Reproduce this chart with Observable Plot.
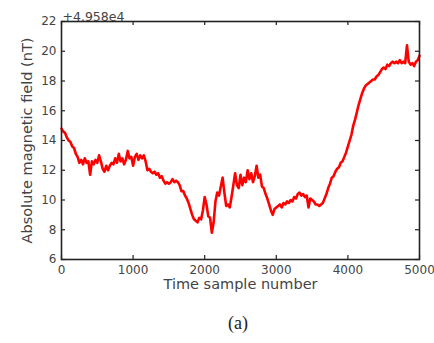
<!DOCTYPE html>
<html>
<head>
<meta charset="utf-8">
<script src="https://cdn.jsdelivr.net/npm/d3@7"></script>
<script src="https://cdn.jsdelivr.net/npm/@observablehq/plot@0.6"></script>
<style>
  html, body { margin: 0; padding: 0; background: #fff; }
  #wrap { width: 434px; height: 343px; position: relative; }
  #cap { position: absolute; left: 0; width: 434px; top: 313px; text-align: center; padding-left: 42px; box-sizing: border-box;
         font-family: "Liberation Serif", "DejaVu Serif", serif; font-size: 18px; color: #222; }
</style>
</head>
<body>
<div id="wrap"><div id="chart"></div><div id="cap">(a)</div></div>
<script>
// Sample spacing between values
const sampleStep = 25;
// Absolute magnetic field minus offset 4.958e4 (nT), every 25 samples from 0 to 5000
const field0 = [14.8,14.6,14.5,14.2,14.0,13.9,13.6,13.5,13.1,12.9,12.5,12.7,12.4,12.8,12.5,12.6,11.7,12.6,12.4,12.7,
                12.5,13.0,12.6,12.1,11.9,12.3,12.0,12.3,12.5,12.4,12.8,12.5,13.1,12.6,12.8,12.4,12.7,13.3,12.8,12.9];
const field1 = [12.3,12.9,13.1,12.7,13.0,12.8,13.0,12.6,12.0,12.1,11.9,11.8,11.9,11.7,11.8,11.5,11.6,11.3,11.1,11.2,
                11.1,11.2,11.4,11.2,11.3,11.2,11.0,10.6,10.6,10.3,10.1,9.8,9.4,9.0,8.7,8.6,8.5,8.8,8.7,9.3];
const field2 = [10.2,9.7,8.9,8.8,7.8,8.5,9.9,10.5,10.3,10.9,11.5,10.5,9.6,9.7,9.5,10.2,11.0,11.8,11.0,10.8,
                11.7,11.0,11.5,11.2,12.0,11.4,11.8,11.2,11.6,12.3,11.5,11.7,10.9,10.8,10.4,10.1,9.7,9.3,9.0,9.4];
const field3 = [9.5,9.6,9.7,9.5,9.8,9.7,9.9,9.8,10.0,9.9,10.2,10.1,10.4,10.5,10.3,10.4,10.2,10.3,9.5,10.1,
                10.0,9.9,9.7,9.7,9.6,9.7,9.8,10.1,10.4,10.8,11.1,11.5,11.6,11.9,12.1,12.2,12.5,12.6,12.9,13.2];
const field4 = [13.6,14.0,14.4,15.0,15.4,15.9,16.4,16.8,17.2,17.5,17.7,17.8,17.9,18.0,18.1,18.1,18.3,18.4,18.6,18.8,
                18.9,18.8,19.1,19.0,19.2,19.3,19.2,19.3,19.2,19.4,19.2,19.3,19.2,20.4,19.3,19.1,19.2,19.0,19.3,19.4,19.7];

const xTicks = [0, 1000, 2000, 3000, 4000, 5000];
const yTicks = [6, 8, 10, 12, 14, 16, 18, 20, 22];
const offsetLabel = "+4.958e4";
const xLabel = "Time sample number";
const yLabel = "Absolute magnetic field (nT)";

const values = [...field0, ...field1, ...field2, ...field3, ...field4];
const data = values.map((v, i) => ({sample: i * sampleStep, field: v}));

const W = 434, H = 300;
const mL = 61, mR = 15, mT = 21, mB = 41;
const fh = H - mT - mB, fw = W - mL - mR;
const tk = 4;

const chart = Plot.plot({
  width: W,
  height: H,
  marginLeft: mL,
  marginRight: mR,
  marginTop: mT,
  marginBottom: mB,
  style: {fontFamily: "DejaVu Sans", fontSize: "12px", color: "#444", background: "#fff"},
  x: {domain: [0, 5000]},
  y: {domain: [6, 22]},
  marks: [
    Plot.line(data, {x: "sample", y: "field", stroke: "#ff0000", strokeWidth: 2.6}),
    // inward ticks
    Plot.tickX(xTicks, {x: d => d, insetTop: fh - tk, stroke: "#222", strokeWidth: 1.2}),
    Plot.tickX(xTicks, {x: d => d, insetBottom: fh - tk, stroke: "#222", strokeWidth: 1.2}),
    Plot.tickY(yTicks, {y: d => d, insetRight: fw - tk, stroke: "#222", strokeWidth: 1.2}),
    Plot.tickY(yTicks, {y: d => d, insetLeft: fw - tk, stroke: "#222", strokeWidth: 1.2}),
    Plot.axisX(xTicks, {tickSize: 0, tickPadding: 6, label: null, fontSize: 12, tickFormat: d3.format("d")}),
    Plot.axisY(yTicks, {tickSize: 0, tickPadding: 5, label: null, fontSize: 12, tickFormat: d3.format("d")}),
    Plot.frame({stroke: "#222", strokeWidth: 1.6}),
    Plot.text([xLabel], {frameAnchor: "bottom", textAnchor: "middle", dy: 29, fontSize: 14.5, fill: "#444"}),
    Plot.text([yLabel], {frameAnchor: "left", textAnchor: "middle", dx: -34, rotate: -90, fontSize: 14.5, fill: "#444"}),
    Plot.text([offsetLabel], {frameAnchor: "top-left", textAnchor: "start", dy: -9, dx: 1, fontSize: 12.5, fill: "#444"})
  ]
});
document.getElementById("chart").appendChild(chart);
</script>
</body>
</html>
